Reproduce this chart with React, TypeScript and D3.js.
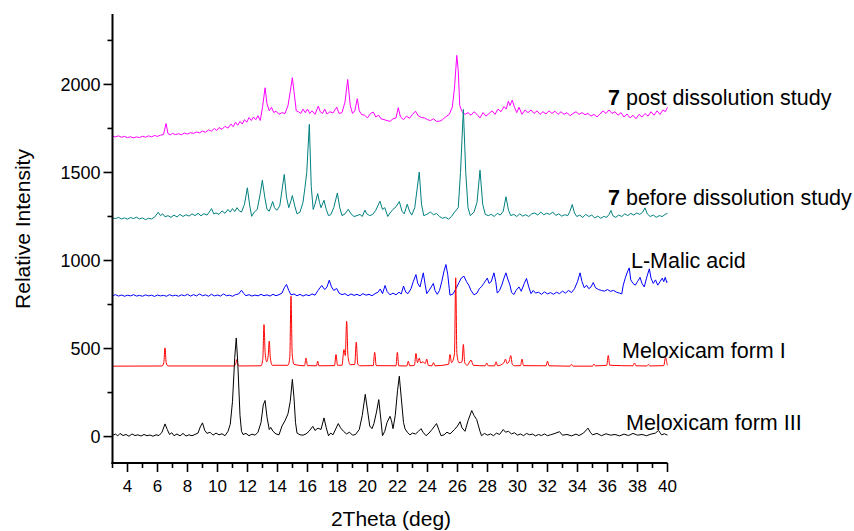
import React from 'react';
import * as d3 from 'd3';

const X_TICKS_MAJOR = [4, 6, 8, 10, 12, 14, 16, 18, 20, 22, 24, 26, 28, 30, 32, 34, 36, 38, 40];
const X_TICKS_MINOR = [3, 5, 7, 9, 11, 13, 15, 17, 19, 21, 23, 25, 27, 29, 31, 33, 35, 37, 39];
const Y_TICKS_MAJOR = [0, 500, 1000, 1500, 2000];
const Y_TICKS_MINOR = [250, 750, 1250, 1750, 2250];

const formIII: [number, number][] = [[3.0,8],[3.2,14],[3.35,4],[3.5,18],[3.7,6],[3.9,12],[4.1,2],[4.3,15],[4.5,6],[4.7,10],[4.9,3],[5.1,12],[5.3,5],[5.5,9],[5.7,2],[5.9,10],[6.1,6],[6.3,25],[6.5,72],[6.65,40],[6.8,12],[6.95,22],[7.1,5],[7.3,15],[7.5,4],[7.7,18],[7.9,3],[8.1,10],[8.3,5],[8.5,12],[8.7,20],[8.85,55],[9.0,78],[9.15,35],[9.3,18],[9.5,25],[9.7,8],[9.9,20],[10.1,10],[10.3,16],[10.5,5],[10.7,30],[10.85,70],[11.0,200],[11.15,450],[11.25,560],[11.35,420],[11.5,120],[11.6,30],[11.7,12],[11.9,18],[12.1,5],[12.3,14],[12.5,8],[12.7,25],[12.9,80],[13.05,180],[13.17,205],[13.3,110],[13.45,40],[13.55,52],[13.7,30],[13.9,15],[14.1,10],[14.3,60],[14.5,90],[14.7,130],[14.85,200],[14.99,325],[15.1,220],[15.2,80],[15.3,20],[15.5,10],[15.7,8],[15.9,15],[16.1,30],[16.35,58],[16.5,35],[16.7,48],[16.9,40],[17.1,106],[17.25,50],[17.4,5],[17.55,20],[17.7,10],[18.05,74],[18.2,50],[18.4,30],[18.6,15],[18.8,25],[19.0,8],[19.2,12],[19.45,40],[19.65,120],[19.85,240],[20.0,150],[20.15,60],[20.3,45],[20.43,74],[20.6,140],[20.75,210],[20.9,90],[21.0,5],[21.15,30],[21.3,80],[21.5,115],[21.6,90],[21.7,45],[21.85,120],[22.0,260],[22.12,343],[22.25,220],[22.4,80],[22.5,45],[22.65,25],[22.83,10],[23.0,20],[23.2,15],[23.4,30],[23.57,45],[23.7,25],[23.9,5],[24.1,20],[24.3,40],[24.6,74],[24.75,40],[24.9,5],[25.1,10],[25.3,25],[25.5,15],[25.8,40],[26.0,60],[26.17,85],[26.3,50],[26.5,30],[26.7,90],[26.95,148],[27.1,120],[27.28,97],[27.4,60],[27.5,30],[27.6,5],[27.8,18],[28.0,8],[28.2,15],[28.4,5],[28.6,20],[28.8,12],[29.05,40],[29.2,25],[29.4,30],[29.6,15],[29.8,22],[30.0,8],[30.2,15],[30.4,5],[30.6,18],[30.8,10],[31.0,14],[31.2,4],[31.4,12],[31.6,6],[31.8,15],[32.0,5],[32.2,10],[32.5,18],[32.8,28],[33.0,8],[33.3,12],[33.6,4],[33.9,14],[34.1,6],[34.4,20],[34.7,48],[34.85,25],[35.0,10],[35.3,18],[35.6,5],[35.9,16],[36.2,8],[36.5,12],[36.8,4],[37.1,14],[37.4,6],[37.7,18],[38.0,8],[38.3,12],[38.6,5],[38.9,14],[39.2,20],[39.4,35],[39.6,10],[39.8,16],[40.0,8]];

const formI: [number, number][] = [[3,400],[6.3,401],[6.42,420],[6.5,504],[6.58,420],[6.7,401],[11.1,401],[11.22,415],[11.28,437],[11.34,415],[11.45,401],[12.9,402],[13.02,440],[13.1,636],[13.18,470],[13.28,425],[13.38,460],[13.45,542],[13.52,450],[13.65,405],[14.7,405],[14.82,450],[14.9,797],[14.98,470],[15.1,410],[15.8,402],[15.9,446],[16.0,403],[16.6,402],[16.68,428],[16.76,402],[17.8,403],[17.9,466],[18.0,405],[18.3,405],[18.43,494],[18.52,460],[18.61,655],[18.7,455],[18.85,408],[19.15,410],[19.25,536],[19.35,412],[19.5,402],[20.38,403],[20.48,478],[20.58,403],[21.9,402],[21.99,478],[22.08,402],[22.62,401],[22.72,428],[22.82,402],[23.13,405],[23.23,472],[23.33,420],[23.45,445],[23.55,418],[23.7,425],[23.85,415],[23.95,440],[24.05,405],[24.3,402],[24.4,420],[24.5,402],[25.4,410],[25.5,466],[25.6,420],[25.8,470],[25.88,902],[25.96,470],[26.1,420],[26.3,425],[26.39,523],[26.48,420],[26.65,405],[26.9,434],[27.05,405],[27.85,402],[27.95,418],[28.05,402],[28.47,402],[28.57,425],[28.67,402],[29.1,420],[29.2,440],[29.3,415],[29.45,430],[29.55,460],[29.65,412],[29.8,402],[30.2,403],[30.3,440],[30.4,403],[31.9,402],[32.0,428],[32.1,402],[33.5,400],[33.6,410],[33.7,400],[35.0,400],[35.1,412],[35.2,402],[35.95,405],[36.05,460],[36.15,405],[37.7,402],[37.8,418],[37.9,402],[38.62,401],[38.72,410],[38.82,401],[39.75,403],[39.87,450],[39.98,410],[40,405]];

const malic: [number, number][] = [[3,800],[3.2,806],[3.4,798],[3.6,804],[3.8,797],[4.0,803],[4.2,799],[4.4,806],[4.6,798],[4.8,802],[5.0,797],[5.2,805],[5.4,799],[5.6,803],[5.8,796],[6.0,804],[6.2,799],[6.4,802],[6.6,797],[6.8,806],[7.0,799],[7.2,803],[7.4,797],[7.6,805],[7.8,800],[8.0,808],[8.2,798],[8.4,806],[8.6,799],[8.8,810],[9.0,800],[9.2,805],[9.4,797],[9.6,808],[9.8,799],[10.0,804],[10.2,798],[10.4,810],[10.6,800],[10.8,803],[11.0,797],[11.2,806],[11.4,810],[11.6,831],[11.75,812],[11.9,800],[12.1,806],[12.3,798],[12.5,804],[12.7,799],[12.9,808],[13.1,800],[13.3,805],[13.5,798],[13.7,808],[13.9,800],[14.1,806],[14.3,815],[14.45,845],[14.6,864],[14.75,830],[14.9,805],[15.1,810],[15.3,800],[15.5,808],[15.7,798],[15.9,806],[16.1,800],[16.3,810],[16.5,803],[16.7,830],[16.95,858],[17.15,835],[17.3,850],[17.45,888],[17.6,850],[17.75,830],[17.95,841],[18.1,815],[18.3,806],[18.5,812],[18.7,800],[18.9,810],[19.1,802],[19.3,808],[19.5,800],[19.7,812],[19.9,803],[20.1,808],[20.3,800],[20.5,812],[20.7,820],[20.85,838],[21.0,812],[21.17,858],[21.3,825],[21.5,805],[21.7,815],[21.9,805],[22.1,820],[22.25,810],[22.4,855],[22.55,820],[22.7,812],[22.9,840],[23.05,880],[23.23,920],[23.35,870],[23.5,850],[23.72,930],[23.85,860],[23.95,812],[24.1,830],[24.25,850],[24.39,870],[24.5,830],[24.65,808],[24.8,830],[24.95,880],[25.1,940],[25.23,977],[25.35,920],[25.45,840],[25.5,803],[25.7,810],[25.9,840],[26.1,875],[26.25,900],[26.43,911],[26.6,880],[26.75,860],[26.9,830],[27.1,805],[27.3,815],[27.45,840],[27.6,851],[27.75,870],[27.99,900],[28.1,870],[28.25,880],[28.43,930],[28.55,880],[28.65,815],[28.8,830],[28.95,860],[29.1,900],[29.23,930],[29.35,895],[29.5,860],[29.6,820],[29.75,806],[29.9,830],[30.1,850],[30.25,825],[30.45,870],[30.6,898],[30.75,850],[30.9,812],[31.05,830],[31.2,815],[31.4,820],[31.6,808],[31.8,822],[32.0,810],[32.2,818],[32.4,808],[32.6,820],[32.8,812],[33.0,826],[33.2,815],[33.4,830],[33.6,818],[33.8,840],[34.0,880],[34.17,930],[34.3,880],[34.45,845],[34.6,860],[34.75,840],[34.9,850],[35.05,875],[35.2,845],[35.4,835],[35.6,830],[35.8,826],[36.0,835],[36.2,825],[36.4,830],[36.6,820],[36.8,815],[36.95,810],[37.05,860],[37.2,905],[37.35,940],[37.45,958],[37.55,890],[37.7,870],[37.85,860],[38.0,880],[38.17,904],[38.3,870],[38.45,850],[38.6,900],[38.79,953],[38.9,900],[39.05,870],[39.2,890],[39.35,860],[39.5,880],[39.65,900],[39.75,880],[39.85,905],[39.95,875],[40,880]];

const before7: [number, number][] = [[3,1242],[3.2,1238],[3.4,1245],[3.6,1236],[3.8,1242],[4.0,1235],[4.2,1244],[4.4,1238],[4.6,1246],[4.8,1236],[5.0,1242],[5.2,1232],[5.4,1240],[5.6,1236],[5.8,1246],[6.05,1274],[6.2,1255],[6.35,1265],[6.5,1248],[6.7,1255],[6.9,1245],[7.1,1258],[7.3,1247],[7.5,1262],[7.7,1250],[7.9,1260],[8.1,1252],[8.3,1265],[8.5,1255],[8.7,1268],[8.9,1254],[9.1,1266],[9.3,1258],[9.45,1275],[9.6,1295],[9.75,1265],[9.9,1270],[10.1,1262],[10.3,1282],[10.5,1268],[10.7,1290],[10.85,1275],[11.0,1295],[11.15,1278],[11.3,1300],[11.45,1282],[11.6,1275],[11.8,1320],[11.99,1413],[12.15,1310],[12.28,1251],[12.45,1275],[12.65,1290],[12.85,1380],[12.99,1456],[13.15,1360],[13.3,1290],[13.45,1280],[13.58,1310],[13.68,1335],[13.8,1300],[13.95,1285],[14.15,1310],[14.3,1400],[14.45,1489],[14.6,1360],[14.75,1300],[14.9,1340],[14.99,1369],[15.15,1310],[15.3,1265],[15.5,1275],[15.7,1330],[15.83,1414],[15.95,1500],[16.12,1773],[16.25,1420],[16.38,1290],[16.5,1320],[16.68,1380],[16.8,1330],[16.9,1300],[17.1,1342],[17.25,1290],[17.4,1255],[17.55,1260],[17.75,1300],[17.99,1383],[18.15,1300],[18.3,1255],[18.5,1265],[18.72,1291],[18.9,1265],[19.1,1250],[19.3,1255],[19.5,1262],[19.65,1250],[19.83,1286],[19.95,1265],[20.15,1255],[20.35,1262],[20.55,1285],[20.83,1337],[21.0,1290],[21.15,1300],[21.35,1250],[21.5,1270],[21.7,1290],[21.9,1305],[22.12,1335],[22.3,1280],[22.45,1265],[22.65,1320],[22.8,1280],[22.95,1258],[23.15,1300],[23.45,1502],[23.6,1320],[23.75,1255],[23.95,1262],[24.2,1275],[24.4,1260],[24.6,1267],[24.8,1250],[25.0,1240],[25.2,1245],[25.4,1235],[25.6,1250],[25.8,1275],[26.05,1300],[26.2,1500],[26.39,1858],[26.55,1500],[26.7,1300],[26.85,1255],[27.1,1275],[27.3,1330],[27.5,1513],[27.68,1320],[27.85,1262],[28.05,1255],[28.25,1262],[28.45,1250],[28.65,1268],[28.85,1258],[29.05,1280],[29.23,1362],[29.4,1285],[29.55,1255],[29.75,1262],[29.95,1250],[30.15,1265],[30.35,1252],[30.55,1260],[30.75,1250],[30.95,1265],[31.15,1270],[31.35,1258],[31.55,1275],[31.75,1260],[31.95,1268],[32.15,1262],[32.35,1275],[32.55,1256],[32.75,1265],[32.95,1252],[33.15,1260],[33.35,1255],[33.5,1280],[33.65,1318],[33.8,1270],[33.95,1250],[34.15,1258],[34.35,1245],[34.55,1262],[34.75,1250],[34.95,1258],[35.15,1242],[35.35,1252],[35.55,1240],[35.75,1250],[35.95,1245],[36.1,1262],[36.23,1284],[36.35,1255],[36.55,1245],[36.75,1258],[36.95,1250],[37.15,1265],[37.35,1255],[37.55,1268],[37.75,1258],[37.95,1270],[38.15,1262],[38.35,1275],[38.5,1299],[38.65,1265],[38.85,1250],[39.05,1258],[39.25,1245],[39.45,1255],[39.65,1250],[39.85,1262],[40,1268]];

const post7: [number, number][] = [[3,1706],[3.2,1702],[3.4,1708],[3.6,1700],[3.8,1705],[4.0,1698],[4.2,1703],[4.4,1697],[4.6,1702],[4.8,1698],[5.0,1706],[5.2,1700],[5.4,1708],[5.6,1702],[5.8,1710],[6.0,1705],[6.2,1712],[6.4,1715],[6.57,1778],[6.7,1720],[6.85,1714],[7.0,1722],[7.2,1715],[7.4,1720],[7.6,1714],[7.8,1724],[8.0,1718],[8.2,1726],[8.4,1722],[8.6,1730],[8.8,1725],[9.0,1735],[9.2,1728],[9.4,1742],[9.6,1735],[9.8,1750],[9.95,1738],[10.1,1755],[10.3,1745],[10.5,1762],[10.7,1752],[10.9,1775],[11.05,1760],[11.2,1785],[11.35,1768],[11.5,1790],[11.65,1775],[11.8,1800],[11.95,1785],[12.1,1812],[12.25,1795],[12.4,1815],[12.55,1800],[12.7,1822],[12.85,1795],[13.0,1870],[13.17,1981],[13.3,1890],[13.45,1850],[13.6,1870],[13.75,1840],[13.9,1848],[14.1,1830],[14.3,1840],[14.5,1835],[14.7,1880],[14.85,1960],[14.99,2038],[15.1,1960],[15.25,1850],[15.4,1845],[15.55,1835],[15.7,1860],[15.85,1840],[16.0,1860],[16.15,1835],[16.3,1850],[16.5,1830],[16.72,1877],[16.85,1845],[17.0,1835],[17.15,1860],[17.3,1832],[17.5,1845],[17.7,1838],[17.95,1871],[18.1,1835],[18.3,1840],[18.5,1900],[18.68,2028],[18.85,1880],[19.0,1835],[19.15,1850],[19.32,1919],[19.45,1850],[19.6,1830],[19.8,1825],[20.0,1810],[20.2,1835],[20.39,1843],[20.55,1815],[20.75,1825],[20.9,1805],[21.1,1800],[21.3,1795],[21.5,1790],[21.7,1805],[21.9,1810],[22.05,1868],[22.2,1815],[22.4,1800],[22.6,1820],[22.8,1808],[23.0,1830],[23.2,1848],[23.4,1820],[23.6,1812],[23.8,1810],[24.0,1800],[24.2,1795],[24.4,1805],[24.6,1790],[24.83,1792],[25.0,1800],[25.2,1815],[25.45,1830],[25.65,1870],[25.8,1980],[25.95,2165],[26.05,2080],[26.15,1880],[26.3,1845],[26.5,1830],[26.7,1840],[26.9,1825],[27.1,1845],[27.3,1830],[27.5,1810],[27.7,1840],[27.9,1820],[28.1,1835],[28.3,1850],[28.5,1830],[28.7,1860],[28.9,1845],[29.1,1875],[29.25,1860],[29.39,1905],[29.5,1880],[29.65,1911],[29.8,1870],[29.95,1840],[30.1,1870],[30.3,1830],[30.5,1855],[30.7,1840],[30.9,1855],[31.1,1835],[31.3,1850],[31.5,1830],[31.7,1845],[31.9,1832],[32.1,1850],[32.3,1835],[32.5,1848],[32.7,1830],[32.9,1845],[33.1,1830],[33.3,1840],[33.5,1822],[33.7,1835],[33.9,1845],[34.1,1830],[34.3,1840],[34.5,1828],[34.7,1835],[34.9,1820],[35.1,1830],[35.3,1815],[35.5,1832],[35.7,1850],[35.9,1835],[36.1,1855],[36.3,1835],[36.5,1845],[36.7,1825],[36.9,1840],[37.1,1815],[37.3,1832],[37.5,1810],[37.7,1825],[37.9,1805],[38.1,1830],[38.3,1815],[38.5,1835],[38.7,1820],[38.9,1845],[39.1,1825],[39.3,1850],[39.5,1830],[39.7,1855],[39.85,1845],[40,1870]];

const SERIES = [
  { name: 'post', data: post7, color: '#ff00ff', smooth: false },
  { name: 'before', data: before7, color: '#008080', smooth: false },
  { name: 'malic', data: malic, color: '#0000ff', smooth: false },
  { name: 'formI', data: formI, color: '#ff0000', smooth: true },
  { name: 'formIII', data: formIII, color: '#000000', smooth: false },
];

const FONT = '"Liberation Sans", Arial, Helvetica, sans-serif';

export default function App() {
  const W = 854, H = 531;
  const x = d3.scaleLinear().domain([3, 40]).range([112.5, 667.5]);
  const y = d3.scaleLinear().domain([-150, 2400]).range([463, 14]);
  const x0 = x.range()[0], x1 = x.range()[1];
  const yb = y.range()[0], yt = y.range()[1];

  const mkLine = (smooth: boolean) =>
    d3.line<[number, number]>()
      .x(d => x(d[0]))
      .y(d => y(d[1]))
      .curve(smooth ? d3.curveMonotoneX : d3.curveLinear);

  return (
    <svg width={W} height={H} style={{ position: 'absolute', left: 0, top: 0, background: '#fff' }} fontFamily={FONT}>
      <rect x={0} y={0} width={W} height={H} fill="#fff" />
      {SERIES.map(s => (
        <path key={s.name} d={mkLine(s.smooth)(s.data) || ''} fill="none" stroke={s.color} strokeWidth={1} strokeLinejoin="round" />
      ))}
      {/* axes */}
      <line x1={x0} x2={x0} y1={yt} y2={yb + 1} stroke="#000" strokeWidth={2} />
      <line x1={x0 - 1} x2={x1} y1={yb} y2={yb} stroke="#000" strokeWidth={2} />
      {Y_TICKS_MAJOR.map(t => (
        <g key={'ym' + t}>
          <line x1={x0 - 9} x2={x0} y1={y(t)} y2={y(t)} stroke="#000" strokeWidth={1.6} />
          <text x={x0 - 12} y={y(t)} dy="0.36em" textAnchor="end" fontSize={18} fill="#000">{t}</text>
        </g>
      ))}
      {Y_TICKS_MINOR.map(t => (
        <line key={'yn' + t} x1={x0 - 5} x2={x0} y1={y(t)} y2={y(t)} stroke="#000" strokeWidth={1.6} />
      ))}
      {X_TICKS_MAJOR.map(t => (
        <g key={'xm' + t}>
          <line x1={x(t)} x2={x(t)} y1={yb} y2={yb + 9} stroke="#000" strokeWidth={1.6} />
          <text x={x(t)} y={492} textAnchor="middle" fontSize={17} fill="#000">{t}</text>
        </g>
      ))}
      {X_TICKS_MINOR.map(t => (
        <line key={'xn' + t} x1={x(t)} x2={x(t)} y1={yb} y2={yb + 5} stroke="#000" strokeWidth={1.6} />
      ))}
      <text x={391} y={526} textAnchor="middle" fontSize={21} fill="#000">2Theta (deg)</text>
      <text transform="translate(30,229) rotate(-90)" textAnchor="middle" fontSize={21} fill="#000">Relative Intensity</text>
      {/* series labels */}
      <text x={608} y={105} fontSize={21.5} fill="#000"><tspan fontWeight="bold">7</tspan> post dissolution study</text>
      <text x={608} y={205} fontSize={21.5} fill="#000"><tspan fontWeight="bold">7</tspan> before dissolution study</text>
      <text x={631} y={268} fontSize={21.5} fill="#000">L-Malic acid</text>
      <text x={622} y={358} fontSize={21.5} fill="#000">Meloxicam form I</text>
      <text x={626} y={430} fontSize={21.5} fill="#000">Meloxicam form III</text>
    </svg>
  );
}
